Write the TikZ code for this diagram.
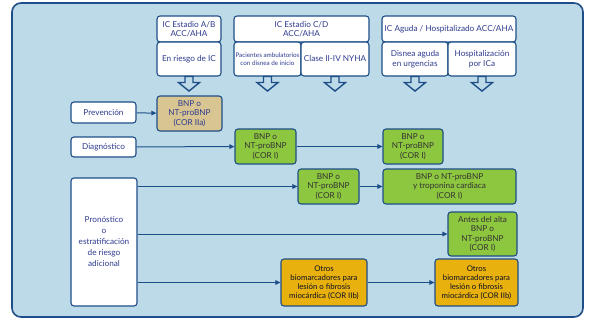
\documentclass[tikz,border=0pt]{standalone}
\usepackage{fontspec}
\setmainfont{Lato}
\usetikzlibrary{arrows.meta}
\definecolor{panel}{RGB}{189,218,232}
\definecolor{azul}{RGB}{30,78,135}
\definecolor{texto}{RGB}{46,59,143}
\definecolor{arena}{RGB}{216,197,145}
\definecolor{verde}{RGB}{141,198,63}
\definecolor{ambar}{RGB}{233,177,14}
\tikzset{
  caja/.style={draw=azul, line width=1.1pt, rounded corners=3pt, fill=white, text=texto,
    align=center, inner sep=1pt, font=\fontsize{8.2}{9.5}\selectfont},
  cajaverde/.style={caja, fill=verde, text=black!80},
  cajaarena/.style={caja, fill=arena},
  cajaambar/.style={caja, fill=ambar, text=black!75!texto},
  flecha/.style={draw=azul, line width=1pt, -{Triangle[length=5pt,width=4.5pt]}},
  hueca/.style={draw=azul, line width=1.4pt, fill=panel, line join=miter}
}
\begin{document}
\begin{tikzpicture}[x=1pt,y=-1pt]
\useasboundingbox (0,0) rectangle (589,321);
\draw[draw=azul, line width=1.6pt, fill=panel, rounded corners=9pt] (12,3) rectangle (583,317);
% cabeceras
\node[caja, minimum width=64pt, minimum height=26pt] (abh) at (189,29) {IC Estadio A/B\\ACC/AHA};
\node[caja, minimum width=64pt, minimum height=34pt] (ab2) at (189,59) {En riesgo de IC};
\node[caja, minimum width=135pt, minimum height=26pt] (cdh) at (301.5,29) {IC Estadio C/D\\ACC/AHA};
\node[caja, minimum width=67pt, minimum height=34pt, font=\fontsize{6.3}{7.8}\selectfont] (cd2) at (267.5,59) {Pacientes ambulatorios\\con disnea de inicio};
\node[caja, minimum width=68pt, minimum height=34pt] (cd3) at (335,59) {Clase II-IV NYHA};
\node[caja, minimum width=134pt, minimum height=26pt] (agh) at (449,29) {IC Aguda / Hospitalizado ACC/AHA};
\node[caja, minimum width=66pt, minimum height=34pt] (ag2) at (415,59) {Disnea aguda\\en urgencias};
\node[caja, minimum width=68pt, minimum height=34pt] (ag3) at (482,59) {Hospitalización\\por ICa};
\foreach \b in {ab2,cd2,cd3,ag2,ag3}
  \draw[hueca] ([xshift=-4pt]\b.south) -- ++(0,6) -- ++(-6.5,0) -- ++(10.5,8.5) -- ++(10.5,-8.5) -- ++(-6.5,0) -- ++(0,-6) -- cycle;
% columna izquierda
\node[caja, minimum width=65pt, minimum height=21pt] (prev) at (103.5,112.5) {Prevención};
\node[caja, minimum width=65pt, minimum height=20pt] (diag) at (103.5,147) {Diagnóstico};
\node[caja, minimum width=66pt, minimum height=128pt, font=\fontsize{8.2}{11}\selectfont] (pron) at (104,242) {Pronóstico\\o\\estratificación\\de riesgo\\adicional};
% biomarcadores
\node[cajaarena, minimum width=65pt, minimum height=35pt] (prevbnp) at (189.5,113.5) {BNP o\\NT-proBNP\\(COR IIa)};
\node[cajaverde, minimum width=61pt, minimum height=35pt] (diag1) at (265.5,146.5) {BNP o\\NT-proBNP\\(COR I)};
\node[cajaverde, minimum width=60pt, minimum height=35pt] (diag2) at (413,146.5) {BNP o\\NT-proBNP\\(COR I)};
\node[cajaverde, minimum width=61pt, minimum height=35pt] (pron1) at (328.5,186.5) {BNP o\\NT-proBNP\\(COR I)};
\node[cajaverde, minimum width=133pt, minimum height=35pt] (pron2) at (449.5,186.5) {BNP o NT-proBNP\\y troponina cardiaca\\(COR I)};
\node[cajaverde, minimum width=69pt, minimum height=44pt] (alta) at (482.5,234) {Antes del alta\\BNP o\\NT-proBNP\\(COR I)};
\node[cajaambar, minimum width=86pt, minimum height=47pt, font=\fontsize{7.8}{9}\selectfont] (otros1) at (324,282.5) {Otros\\biomarcadores para\\lesión o fibrosis\\miocárdica (COR IIb)};
\node[cajaambar, minimum width=83pt, minimum height=47pt, font=\fontsize{7.8}{9}\selectfont] (otros2) at (476.5,282.5) {Otros\\biomarcadores para\\lesión o fibrosis\\miocárdica (COR IIb)};
% flechas
\draw[flecha] (prev) -- (prevbnp);
\draw[flecha] (diag) -- (diag1);
\draw[flecha] (diag1) -- (diag2);
\draw[flecha] (pron.east |- pron1.west) -- (pron1.west);
\draw[flecha] (pron1) -- (pron2);
\draw[flecha] (pron.east |- alta.west) -- (alta.west);
\draw[flecha] (pron.east |- otros1.west) -- (otros1.west);
\draw[flecha] (otros1) -- (otros2);
\end{tikzpicture}
\end{document}
